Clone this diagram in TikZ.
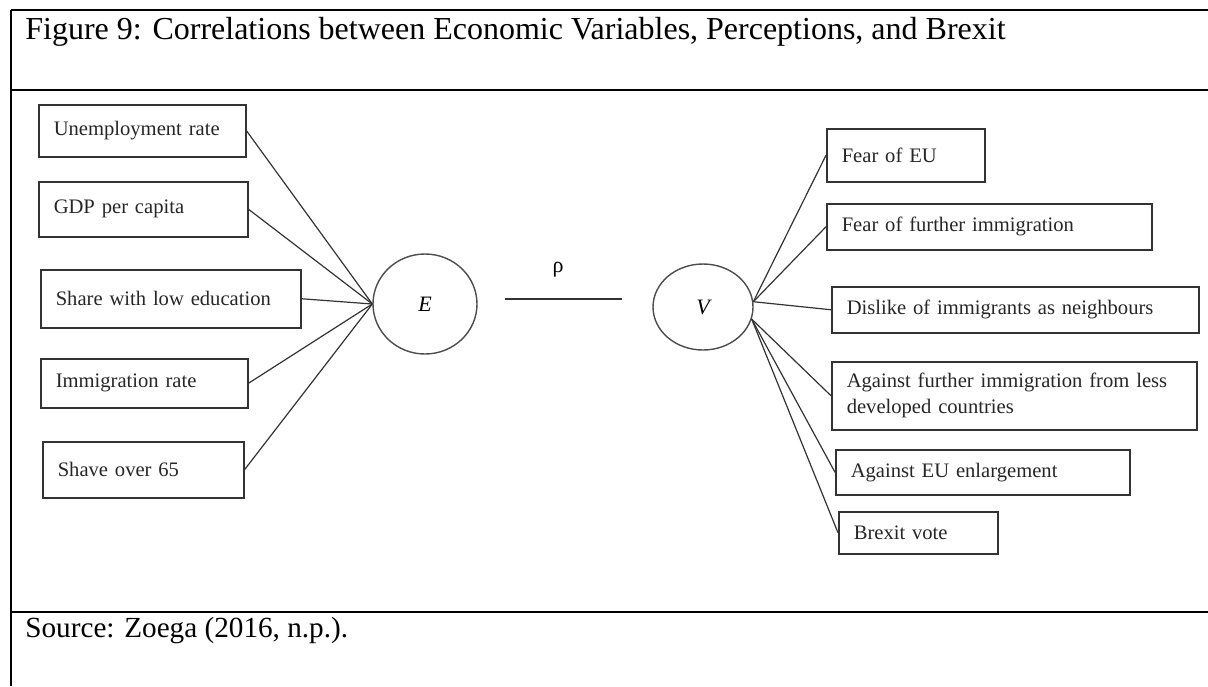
\documentclass[tikz,border=0pt]{standalone}
\usepackage{fontspec}
\setmainfont{Liberation Serif}
\usetikzlibrary{shapes.geometric}

\begin{document}
\begin{tikzpicture}[x=0.5pt,y=-0.5pt,
  varbox/.style={draw=black!80,line width=0.75pt,rectangle,anchor=north west,align=left,
    inner xsep=7.5pt,inner ysep=0pt,text=black!85,font=\fontsize{10.3}{13}\selectfont},
  latent/.style={draw=black!70,line width=0.7pt,ellipse,inner sep=0pt,font=\fontsize{11}{13}\selectfont\itshape},
  link/.style={draw=black!80,line width=0.6pt},
  frame/.style={line width=0.9pt}]
\useasboundingbox (0,0) rectangle (1208,686);
% table frame
\draw [frame] (11,10)--(1208,10);
\draw [frame] (11,10)--(11,686);
\draw [frame,line width=1.1pt] (11,90)--(1208,90);
\draw [frame,line width=1.1pt] (11,612)--(1208,612);
\node [anchor=base west,inner sep=0pt,font=\fontsize{16}{18}\selectfont] (title) at (25,39)
  {Figure 9: Correlations between Economic Variables, Perceptions, and Brexit};
\node [anchor=base west,inner sep=0pt,font=\fontsize{14.6}{18}\selectfont] (source) at (25,637)
  {Source: Zoega (2016, n.p.).};
% economic variables
\node [varbox,text width=88.5pt,minimum height=26pt] (unemp) at (38,104) {Unemployment rate};
\node [varbox,text width=89.5pt,minimum height=27.5pt] (gdp) at (38,181) {GDP per capita};
\node [varbox,text width=115pt,minimum height=29pt] (share) at (40,269) {Share with low education};
\node [varbox,text width=88.5pt,minimum height=24.5pt] (immig) at (40,358) {Immigration rate};
\node [varbox,text width=85.5pt,minimum height=28pt] (shave) at (42,441) {Shave over 65};
% perceptions
\node [varbox,text width=64pt,minimum height=26.5pt] (fearEU) at (826,128) {Fear of EU};
\node [varbox,text width=147.5pt,minimum height=23pt] (fearimm) at (826,203) {Fear of further immigration};
\node [varbox,text width=168.5pt,minimum height=23pt] (dislike) at (831,286) {Dislike of immigrants as neighbours};
\node [varbox,text width=167.5pt,minimum height=34pt] (against) at (831,361) {Against further immigration from less\\developed countries};
\node [varbox,text width=132pt,minimum height=22.5pt] (enlarg) at (835,449) {Against EU enlargement};
\node [varbox,text width=64.5pt,minimum height=21pt] (brexit) at (838,511) {Brexit vote};
% latent factors
\node [latent,minimum width=52pt,minimum height=50pt] (E) at (425,304) {E};
\node [latent,minimum width=50pt,minimum height=43pt] (V) at (703,307) {V};
\coordinate (rholeft) at (505,299);
\coordinate (rhoright) at (622,299);
\draw [link,line width=0.7pt] (rholeft)--(rhoright);
\node [font=\fontsize{11}{13}\selectfont] (rho) at (558,270) {ρ};
% connectors
\foreach \n in {unemp,gdp,share,immig,shave}
  \draw [link] (\n.east)--(E.west);
\foreach \n in {fearEU,fearimm,dislike}
  \draw [link] (V.6)--(\n.west);
\foreach \n in {against,enlarg,brexit}
  \draw [link] (V.-14)--(\n.west);
\end{tikzpicture}
\end{document}
